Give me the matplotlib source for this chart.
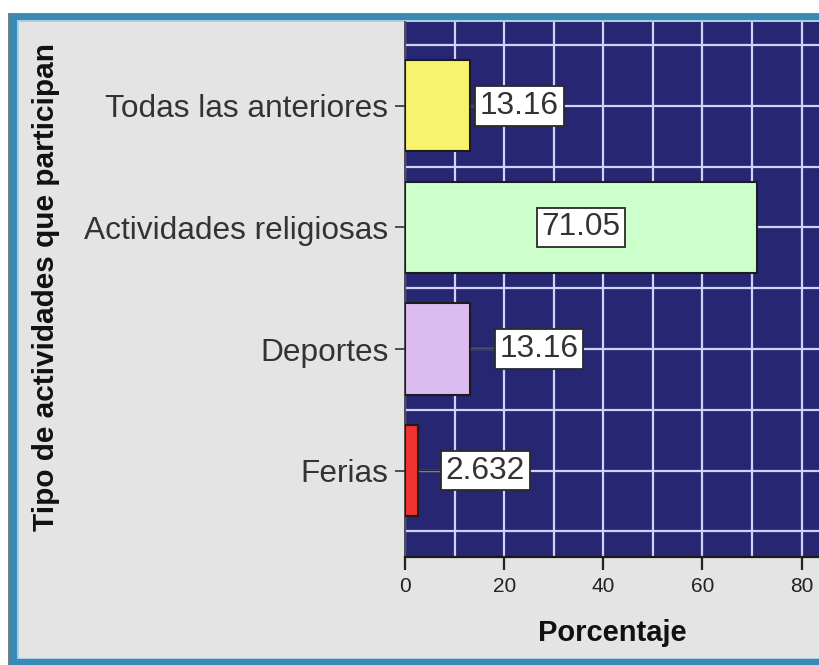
import matplotlib
matplotlib.use("Agg")
import matplotlib.pyplot as plt
from matplotlib.patches import Rectangle
import numpy as np

plt.rcParams['font.family'] = ['Liberation Sans', 'DejaVu Sans']

# ---- data ----
categories = ['Todas las anteriores', 'Actividades religiosas', 'Deportes', 'Ferias']
values = [13.16, 71.05, 13.16, 2.632]
value_labels = ['13.16', '71.05', '13.16', '2.632']
x_ticks = [0, 20, 40, 60, 80]

# ---- style ----
bar_colors = ['#f7f36c', '#ccffcc', '#dcbcf0', '#f03232']
label_x = [15.1, None, 19.1, 8.2]   # None -> centred inside the bar
navy = '#262672'
grid_c = '#d2d2f8'

W, H = 820, 665
fig = plt.figure(figsize=(W / 100, H / 100), dpi=100)
fig.patch.set_facecolor('white')

def rect(xl, ytop, ybot, color, z):
    r = Rectangle((xl / W, 1 - ybot / H), 1.5, (ybot - ytop) / H,
                  transform=fig.transFigure, facecolor=color, edgecolor='none', zorder=z)
    fig.patches.append(r)

rect(8, 13, 700, '#808080', -10)
rect(9, 14, 700, '#3a8ab5', -9)
rect(17, 20, 659, '#a6cfe0', -8)
rect(19, 22, 658, '#e4e4e4', -7)

ax_left, ax_right, ax_top, ax_bot = 405, 820, 22, 557
ax = fig.add_axes([ax_left / W, 1 - ax_bot / H, (ax_right - ax_left) / W, (ax_bot - ax_top) / H])
ax.set_facecolor(navy)

ypos = np.arange(len(categories))[::-1]
ax.barh(ypos, values, height=0.75, color=bar_colors, edgecolor='#1c1c1c', linewidth=1.5, zorder=3)

ax.set_xlim(0, 83.7)
ax.set_ylim(-0.71, 3.69)

ax.set_xticks(x_ticks)
ax.set_xticks(np.arange(10, 84, 20), minor=True)
ax.set_yticks(ypos)
ax.set_yticklabels(categories)
ax.set_yticks(np.arange(-0.5, 3.6, 1.0), minor=True)
ax.set_axisbelow(True)
ax.grid(which='both', color=grid_c, linewidth=1.6)

ax.tick_params(axis='x', which='major', length=9.5, width=1.6, color='#222222',
               labelsize=15, labelcolor='#222222', pad=5)
ax.tick_params(axis='y', which='major', length=7, width=1.2, color='#333333',
               labelsize=22.8, labelcolor='#333333', pad=5)
ax.tick_params(which='minor', length=0)

for s in ['top', 'right']:
    ax.spines[s].set_visible(False)
ax.spines['left'].set_color('#333333')
ax.spines['left'].set_linewidth(1.2)
ax.spines['bottom'].set_color('#1a1a1a')
ax.spines['bottom'].set_linewidth(1.6)

box = dict(boxstyle='square,pad=0.15', facecolor='white', edgecolor='#2a2a2a', linewidth=1.3)
for y, v, lab, lx in zip(ypos, values, value_labels, label_x):
    if lx is None:
        ax.text(v / 2, y, lab, ha='center', va='center', fontsize=22.8, color='#333333',
                bbox=box, zorder=5)
    else:
        ax.annotate(lab, xy=(v, y), xytext=(lx, y), textcoords='data',
                    ha='left', va='center', fontsize=22.8, color='#333333', bbox=box, zorder=5,
                    arrowprops=dict(arrowstyle='-', color='#2a2a2a', lw=1.2,
                                    shrinkA=0, shrinkB=0))

ax.set_xlabel('Porcentaje', fontsize=21, fontweight='bold', color='#111111')
ax.xaxis.set_label_coords(0.5, -0.142)
ax.xaxis.label.set_verticalalignment('center')
ax.set_ylabel('Tipo de actividades que participan', fontsize=21.4, fontweight='bold', color='#111111')
ax.yaxis.set_label_coords((46 - ax_left) / (ax_right - ax_left), 0.505)
ax.yaxis.label.set_verticalalignment('center')

fig.savefig('out.png', dpi=100)
